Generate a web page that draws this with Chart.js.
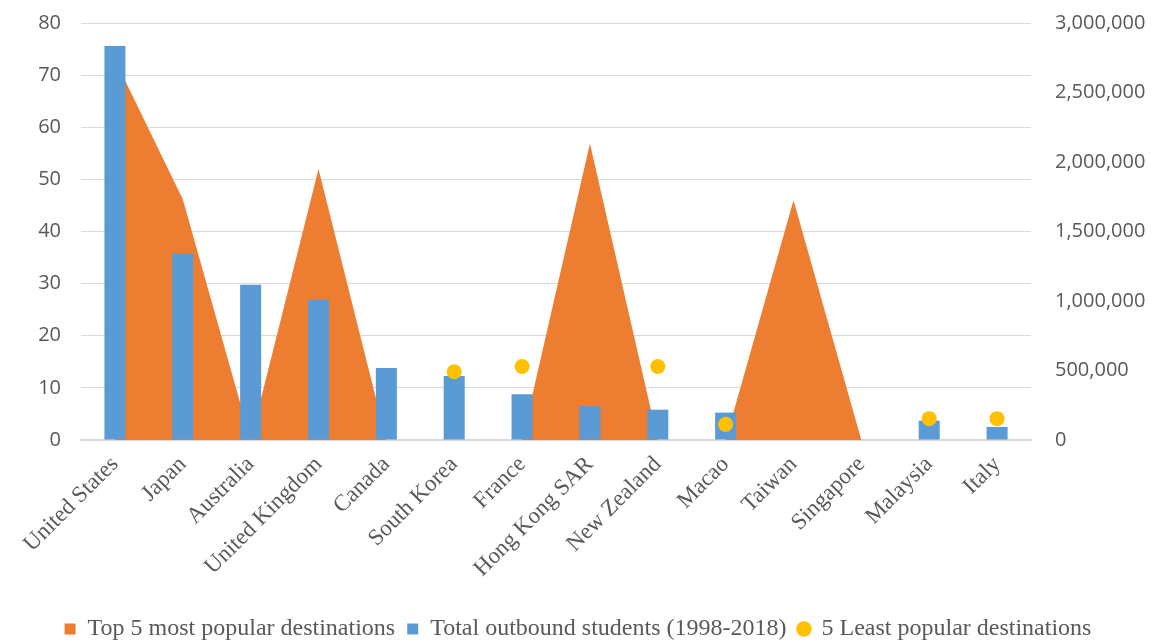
<!DOCTYPE html>
<html>
<head>
<meta charset="utf-8">
<script src="https://cdn.jsdelivr.net/npm/chart.js@4.4.1/dist/chart.umd.min.js"></script>
<style>
    html, body { margin: 0; padding: 0; background: #fff; }
    #wrap { width: 1156px; height: 640px; }
</style>
</head>
<body>
<div id="wrap"><canvas id="chart"></canvas></div>
<script>
// Chart data
const countries = ['United States', 'Japan', 'Australia', 'United Kingdom', 'Canada', 'South Korea', 'France',
    'Hong Kong SAR', 'New Zealand', 'Macao', 'Taiwan', 'Singapore', 'Malaysia', 'Italy'];
const topFive = [73, 46.2, 0, 52, 0, 0, 0, 56.9, 0, 0, 46, 0, 0, 0];
const totalStudents = [2835000, 1346000, 1117000, 1009000, 518000, 461000, 330000,
    244000, 218000, 197000, 0, 0, 139000, 94000];
const leastFive = [null, null, null, null, null, 13.1, 14.1, null, 14.1, 3.0, null, null, 4.1, 4.1];
const leftTicks = [0, 10, 20, 30, 40, 50, 60, 70, 80];
const rightTicks = [0, 500000, 1000000, 1500000, 2000000, 2500000, 3000000];

const gray = '#595959';
const gridGray = '#d9d9d9';
const serif = '"Liberation Serif", "Times New Roman", serif';
const sans = '"Open Sans", sans-serif';

// side axes: fixed width, no extra top/bottom room for their labels
function fixSide(width) {
    return s => { s.width = width; s.paddingTop = 0; s.paddingBottom = 0; };
}

const ctx = document.getElementById('chart').getContext('2d');
const chart = new Chart(ctx, {
    type: 'bar',
    data: {
        labels: countries,
        datasets: [
            {
                type: 'line',
                label: 'Top 5 most popular destinations',
                data: topFive,
                yAxisID: 'y',
                backgroundColor: '#ED7D31',
                borderColor: '#ED7D31',
                borderWidth: 0,
                pointRadius: 0,
                pointStyle: 'rect',
                fill: 'origin',
                tension: 0,
                order: 3
            },
            {
                label: 'Total outbound students (1998-2018)',
                data: totalStudents,
                yAxisID: 'y1',
                backgroundColor: '#5B9BD5',
                pointStyle: 'rect',
                categoryPercentage: 1,
                barPercentage: 0.31,
                order: 2
            },
            {
                type: 'line',
                label: '5 Least popular destinations',
                data: leastFive,
                yAxisID: 'y',
                showLine: false,
                pointStyle: 'circle',
                pointRadius: 7.5,
                pointBackgroundColor: '#FFC000',
                pointBorderWidth: 0,
                backgroundColor: '#FFC000',
                borderColor: '#FFC000',
                order: 1
            }
        ]
    },
    options: {
        responsive: true,
        maintainAspectRatio: false,
        animation: false,
        layout: { padding: { top: 23, left: 0, right: 0, bottom: -11 } },
        plugins: {
            legend: {
                position: 'bottom',
                labels: {
                    usePointStyle: true,
                    boxWidth: 11,
                    boxHeight: 11,
                    padding: 12,
                    color: gray,
                    font: { family: serif, size: 24 },
                    sort: (a, b) => a.datasetIndex - b.datasetIndex
                }
            },
            tooltip: { enabled: false }
        },
        scales: {
            x: {
                offset: true,
                grid: { display: false },
                border: { display: true, color: gridGray, width: 1.5 },
                afterFit: s => { s.height = 165; },
                ticks: {
                    color: gray,
                    maxRotation: 45,
                    minRotation: 45,
                    autoSkip: false,
                    font: { family: serif, size: 23 }
                }
            },
            y: {
                position: 'left',
                min: 0,
                max: 80,
                afterBuildTicks: axis => { axis.ticks = leftTicks.map(v => ({ value: v })); },
                afterFit: fixSide(81),
                grid: { color: gridGray, lineWidth: 1, drawTicks: false },
                border: { display: false },
                ticks: {
                    color: gray,
                    padding: 20,
                    font: { family: sans, size: 20 }
                }
            },
            y1: {
                position: 'right',
                min: 0,
                max: 3000000,
                afterBuildTicks: axis => { axis.ticks = rightTicks.map(v => ({ value: v })); },
                afterFit: fixSide(125),
                grid: { drawOnChartArea: false, drawTicks: false },
                border: { display: false },
                ticks: {
                    color: gray,
                    padding: 24,
                    font: { family: sans, size: 20 },
                    callback: v => v.toLocaleString('en-US')
                }
            }
        }
    }
});
</script>
</body>
</html>
